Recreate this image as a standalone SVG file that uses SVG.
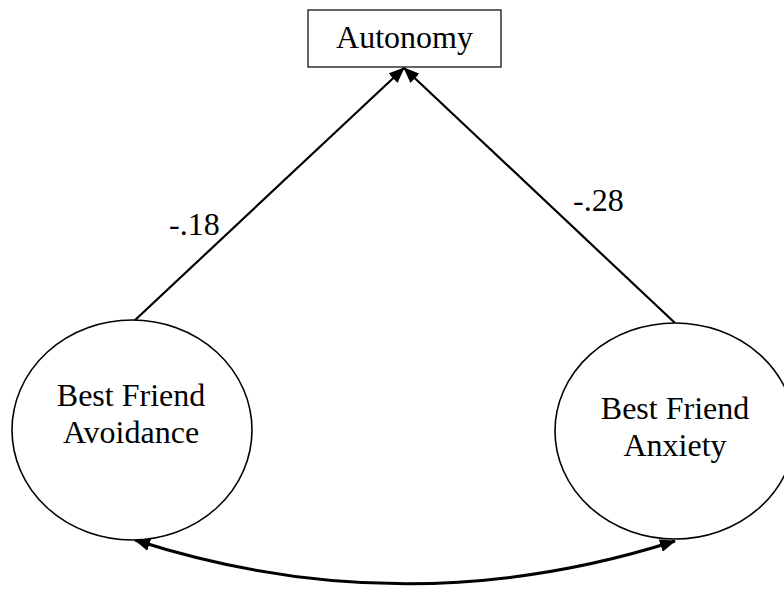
<svg xmlns="http://www.w3.org/2000/svg" width="784" height="592" viewBox="0 0 784 592">
  <style>
    .node-shape { fill: #ffffff; stroke: #000000; }
    .label { font-family: "Liberation Serif", "Times New Roman", serif; font-size: 32px; fill: #000000; }
    .path { fill: none; stroke: #000000; stroke-width: 2.2; }
    .cov { fill: none; stroke: #000000; stroke-width: 3; }
  </style>
  <defs>
    <marker id="arrow" viewBox="0 0 16 13" refX="15" refY="6.5" markerWidth="16" markerHeight="13" markerUnits="userSpaceOnUse" orient="auto-start-reverse">
      <path d="M0,0 L16,6.5 L0,13 z" fill="#000000"/>
    </marker>
  </defs>

  <rect width="784" height="592" fill="#ffffff"/>

  <!-- connectors -->
  <g id="connectors">
    <line class="path" x1="133" y1="322" x2="404" y2="68" marker-end="url(#arrow)"/>
    <line class="path" x1="675" y1="323" x2="404" y2="68" marker-end="url(#arrow)"/>
    <path class="cov" d="M135,540 Q405,627 675,541" marker-start="url(#arrow)" marker-end="url(#arrow)"/>
    <text class="label" x="169" y="235">-.18</text>
    <text class="label" x="573" y="211">-.28</text>
  </g>

  <!-- outcome -->
  <g id="autonomy">
    <rect class="node-shape" x="308" y="10" width="193" height="57" stroke-width="1.2"/>
    <text class="label" x="404.5" y="48" text-anchor="middle">Autonomy</text>
  </g>

  <!-- latent predictors -->
  <g id="avoidance">
    <ellipse class="node-shape" cx="132" cy="430" rx="120" ry="110" stroke-width="1.6"/>
    <text class="label" x="131" y="406" text-anchor="middle">Best Friend</text>
    <text class="label" x="131" y="443" text-anchor="middle">Avoidance</text>
  </g>

  <g id="anxiety">
    <ellipse class="node-shape" cx="675" cy="431" rx="120" ry="108" stroke-width="1.6"/>
    <text class="label" x="675" y="419" text-anchor="middle">Best Friend</text>
    <text class="label" x="675" y="456" text-anchor="middle">Anxiety</text>
  </g>
</svg>
